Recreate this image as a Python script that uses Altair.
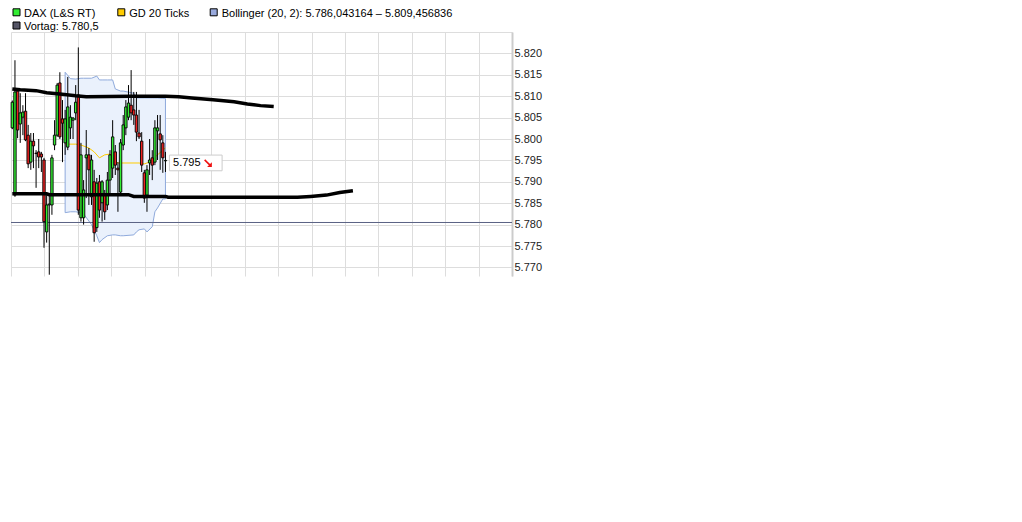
import altair as alt
import numpy as np
import pandas as pd

# tick candles (index, open/high/low/close in DAX points)
opens = [5802.6, 5786.9, 5811.2, 5803.5, 5805.1, 5806.5, 5800.9, 5794.6, 5799.5, 5796.7,
         5797.0, 5796.5, 5795.1, 5778.3, 5784.6, 5784.6, 5798.6, 5800.9, 5813.1, 5804.7,
         5799.1, 5798.1, 5802.6, 5804.4, 5806.1, 5810.3, 5781.6, 5781.6, 5795.6, 5796.3,
         5786.5, 5790.0, 5779.3, 5790.0, 5785.1, 5786.9, 5784.6, 5790.4, 5793.2, 5797.0,
         5793.2, 5787.6, 5798.6, 5802.6, 5805.1, 5807.9, 5806.8, 5805.6, 5801.4, 5799.5,
         5792.1, 5786.9, 5794.4, 5795.6, 5794.6, 5801.9, 5801.2, 5799.1, 5794.9]
highs = [5809.0, 5818.4, 5811.9, 5810.7, 5807.9, 5810.7, 5803.3, 5801.4, 5801.4, 5797.4,
         5800.0, 5797.0, 5795.6, 5786.9, 5787.4, 5796.3, 5804.4, 5813.1, 5815.6, 5809.1,
         5806.8, 5814.5, 5807.9, 5805.1, 5812.6, 5821.4, 5799.1, 5790.4, 5802.1, 5797.9,
         5796.3, 5792.8, 5790.9, 5791.6, 5790.4, 5788.1, 5792.3, 5797.4, 5804.4, 5798.6,
         5794.6, 5800.0, 5805.6, 5809.1, 5812.6, 5816.1, 5811.0, 5811.0, 5806.8, 5801.6,
         5792.8, 5793.9, 5800.0, 5797.4, 5804.4, 5805.6, 5805.6, 5800.9, 5797.0]
lows = [5802.3, 5786.5, 5800.2, 5799.1, 5800.9, 5799.5, 5793.2, 5792.8, 5793.2, 5788.6,
        5793.2, 5792.3, 5774.6, 5775.8, 5768.3, 5782.3, 5797.4, 5800.5, 5800.0, 5794.6,
        5796.3, 5797.4, 5800.0, 5800.0, 5804.4, 5782.3, 5780.7, 5780.0, 5786.2, 5784.6,
        5784.6, 5776.0, 5778.3, 5781.6, 5780.7, 5781.1, 5783.4, 5786.9, 5790.9, 5791.6,
        5783.0, 5786.9, 5797.4, 5800.9, 5804.4, 5804.4, 5803.3, 5799.5, 5800.0, 5792.3,
        5785.1, 5783.0, 5791.6, 5790.4, 5793.9, 5795.1, 5792.8, 5792.1, 5792.3]
closes = [5808.6, 5811.0, 5802.1, 5806.1, 5806.3, 5799.8, 5794.2, 5799.5, 5798.4, 5796.6,
          5795.8, 5795.8, 5780.7, 5784.6, 5784.8, 5795.6, 5800.9, 5812.6, 5800.5, 5803.7,
          5804.7, 5807.5, 5805.1, 5804.9, 5808.6, 5783.4, 5796.3, 5788.1, 5796.3, 5792.8,
          5795.1, 5778.1, 5789.7, 5783.4, 5790.0, 5783.0, 5790.4, 5796.3, 5800.5, 5793.9,
          5792.8, 5799.1, 5803.3, 5807.5, 5808.4, 5806.1, 5805.6, 5801.6, 5800.5, 5793.9,
          5786.2, 5792.8, 5795.1, 5793.9, 5802.6, 5802.6, 5799.8, 5795.6, 5795.0]

# Bollinger (20, 2) envelope
band_idx = [20, 22, 24, 26, 27, 30, 32, 33, 34, 36, 38, 39, 41, 42, 46, 47, 48, 50, 51, 53, 54, 55, 57, 58]
band_upper = [5815.6, 5814.1, 5814.0, 5814.2, 5814.2, 5814.2, 5814.7, 5813.8, 5813.8, 5813.8, 5813.8, 5811.7,
              5811.2, 5811.2, 5810.7, 5809.6, 5809.6, 5809.6, 5809.6, 5809.6, 5809.6, 5809.6, 5809.5, 5809.5]
band_lower = [5782.8, 5783.0, 5783.0, 5782.8, 5782.5, 5780.0, 5777.4, 5775.8, 5776.5, 5777.4, 5777.6, 5777.6,
              5777.4, 5777.4, 5777.6, 5778.3, 5778.8, 5779.0, 5778.3, 5779.5, 5783.0, 5783.9, 5786.0, 5786.0]

# GD 20 Ticks
gd_idx = [20, 24, 26, 29, 31, 33, 35, 37, 38, 40, 48, 50, 52, 55, 57, 58]
gd_vals = [5798.8, 5798.8, 5798.6, 5797.9, 5797.0, 5795.6, 5796.3, 5796.5, 5795.6, 5794.4,
           5794.4, 5794.2, 5794.6, 5796.3, 5797.4, 5797.9]

# thick black channel lines
chan_up_idx = [0, 3, 9, 13, 18, 24, 28, 45, 58, 63, 68, 76, 84, 89, 94, 99]
chan_up_vals = [5811.7, 5811.5, 5811.3, 5810.8, 5810.5, 5810.1, 5809.9, 5810.0, 5810.0, 5809.9,
                5809.6, 5809.2, 5808.7, 5808.2, 5807.8, 5807.6]
chan_lo_idx = [0, 13, 14, 44, 46, 58, 59, 108, 113, 119, 124, 129]
chan_lo_vals = [5787.2, 5787.2, 5787.0, 5787.0, 5786.6, 5786.6, 5786.4, 5786.4, 5786.6, 5786.9,
                5787.5, 5787.9]

vortag = 5780.5
legend_labels = ["DAX (L&S RT)", "GD 20 Ticks",
                 "Bollinger (20, 2): 5.786,043164 – 5.809,456836", "Vortag: 5.780,5"]
y_ticks = [5770, 5775, 5780, 5785, 5790, 5795, 5800, 5805, 5810, 5815, 5820, 5825]

FONT = "Liberation Sans"
GRID = "#dddddd"

x_lo, x_hi = -0.5, 189.25
x_scale = alt.Scale(domain=[x_lo, x_hi], nice=False, zero=False, padding=0)
x_axis = alt.Axis(values=list(np.linspace(x_lo, x_hi, 16)), grid=True, gridColor=GRID,
                  labels=False, ticks=False, domain=False, title=None)
y_scale = alt.Scale(domain=[5768, 5825], nice=False, zero=False, padding=0)
y_axis = alt.Axis(orient="right", values=y_ticks, grid=True, gridColor=GRID, ticks=False,
                  domainColor="#cccccc", domainWidth=2, labelPadding=2, labelFont=FONT,
                  labelFontSize=11, labelColor="#222222", title=None,
                  labelExpr="datum.value > 5822 ? '' : replace(format(datum.value, ','), ',', '.')")


def X(f):
    return alt.X(f, type="quantitative", scale=x_scale, axis=x_axis)


def Y(f):
    return alt.Y(f, type="quantitative", scale=y_scale, axis=y_axis)


candles = pd.DataFrame({"i": range(len(opens)), "open": opens, "high": highs,
                        "low": lows, "close": closes})
candles["dir"] = np.where(candles["close"] >= candles["open"], "up", "down")
band = pd.DataFrame({"i": band_idx, "upper": band_upper, "lower": band_lower})
gd = pd.DataFrame({"i": gd_idx, "v": gd_vals})
chan_up = pd.DataFrame({"i": chan_up_idx, "v": chan_up_vals})
chan_lo = pd.DataFrame({"i": chan_lo_idx, "v": chan_lo_vals})

band_area = alt.Chart(band).mark_area(fill="#eaf1fc", stroke="#8faadc", strokeWidth=1,
                                      opacity=1).encode(x=X("i"), y=Y("upper"), y2="lower")
vortag_line = alt.Chart(pd.DataFrame({"v": [vortag]})).mark_rule(
    color="#5b6384", strokeWidth=1).encode(y=Y("v"))
gd_line = alt.Chart(gd).mark_line(color="#ffcc00", strokeWidth=1).encode(x=X("i"), y=Y("v"))
wicks = alt.Chart(candles).mark_rule(color="black", strokeWidth=1).encode(
    x=X("i"), y=Y("low"), y2="high")
bodies = alt.Chart(candles).mark_bar(size=2.4, stroke="black", strokeWidth=0.9, opacity=1).encode(
    x=X("i"), y=Y("open"), y2="close",
    color=alt.Color("dir:N", scale=alt.Scale(domain=["up", "down"], range=["#33ee33", "#ee2222"]),
                    legend=None))
up_line = alt.Chart(chan_up).mark_line(color="black", strokeWidth=3.5).encode(x=X("i"), y=Y("v"))
lo_line = alt.Chart(chan_lo).mark_line(color="black", strokeWidth=3.5).encode(x=X("i"), y=Y("v"))

# last price box
last_txt = f"{closes[-1]:,.0f}".replace(",", ".")
last = pd.DataFrame({"i": [len(closes) - 1], "c": [closes[-1]], "t": [last_txt]})
box_path = "M-1,-0.298H1V0.298H-1Z"
arrow_path = "M-0.66,-0.94L0.54,0.26L1,-0.2L1,1L-0.2,1L0.26,0.54L-0.94,-0.66Z"
box = alt.Chart(last).mark_point(shape=box_path, size=2777, filled=True, fill="white",
                                 stroke="#cccccc", strokeWidth=1, opacity=1,
                                 xOffset=30.3, yOffset=2.5).encode(x=X("i"), y=Y("c"))
box_text = alt.Chart(last).mark_text(align="left", baseline="middle", dx=7.6, dy=2.7,
                                     font=FONT, fontSize=11, color="black").encode(
    x=X("i"), y=Y("c"), text="t:N")
arrow = alt.Chart(last).mark_point(shape=arrow_path, size=64, filled=True, color="#ee1111",
                                   opacity=1, xOffset=42.4, yOffset=2.6).encode(x=X("i"), y=Y("c"))

# legend on top
legend_colors = ["#33ee33", "#ffcc00", "#99aadd", "#555566"]
legend_pos = [(5.5, -19.7, 13, -14.8), (110.3, -19.7, 118.3, -14.8),
              (202.7, -19.7, 210.7, -14.8), (5.5, -6.5, 13, -2.5)]
legend_layers = []
for lab, col, (sx, sy, tx, ty) in zip(legend_labels, legend_colors, legend_pos):
    d = pd.DataFrame({"t": [lab]})
    legend_layers.append(alt.Chart(d).mark_point(shape="square", size=49, filled=True, fill=col,
                                                 stroke="black", strokeWidth=1, opacity=1).encode(
        x=alt.value(sx), y=alt.value(sy)))
    legend_layers.append(alt.Chart(d).mark_text(align="left", baseline="alphabetic", font=FONT,
                                                fontSize=11, color="black").encode(
        x=alt.value(tx), y=alt.value(ty), text="t:N"))

chart = alt.layer(band_area, vortag_line, gd_line, wicks, bodies, up_line, lo_line,
                  box, box_text, arrow, *legend_layers).properties(
    width=501, height=244,
    autosize=alt.AutoSizeParams(type="none"),
    padding={"left": 3, "top": 24, "right": 100, "bottom": 10},
).configure_view(strokeWidth=0)

chart.save("out.html", embed_options={"renderer": "svg", "actions": False})
